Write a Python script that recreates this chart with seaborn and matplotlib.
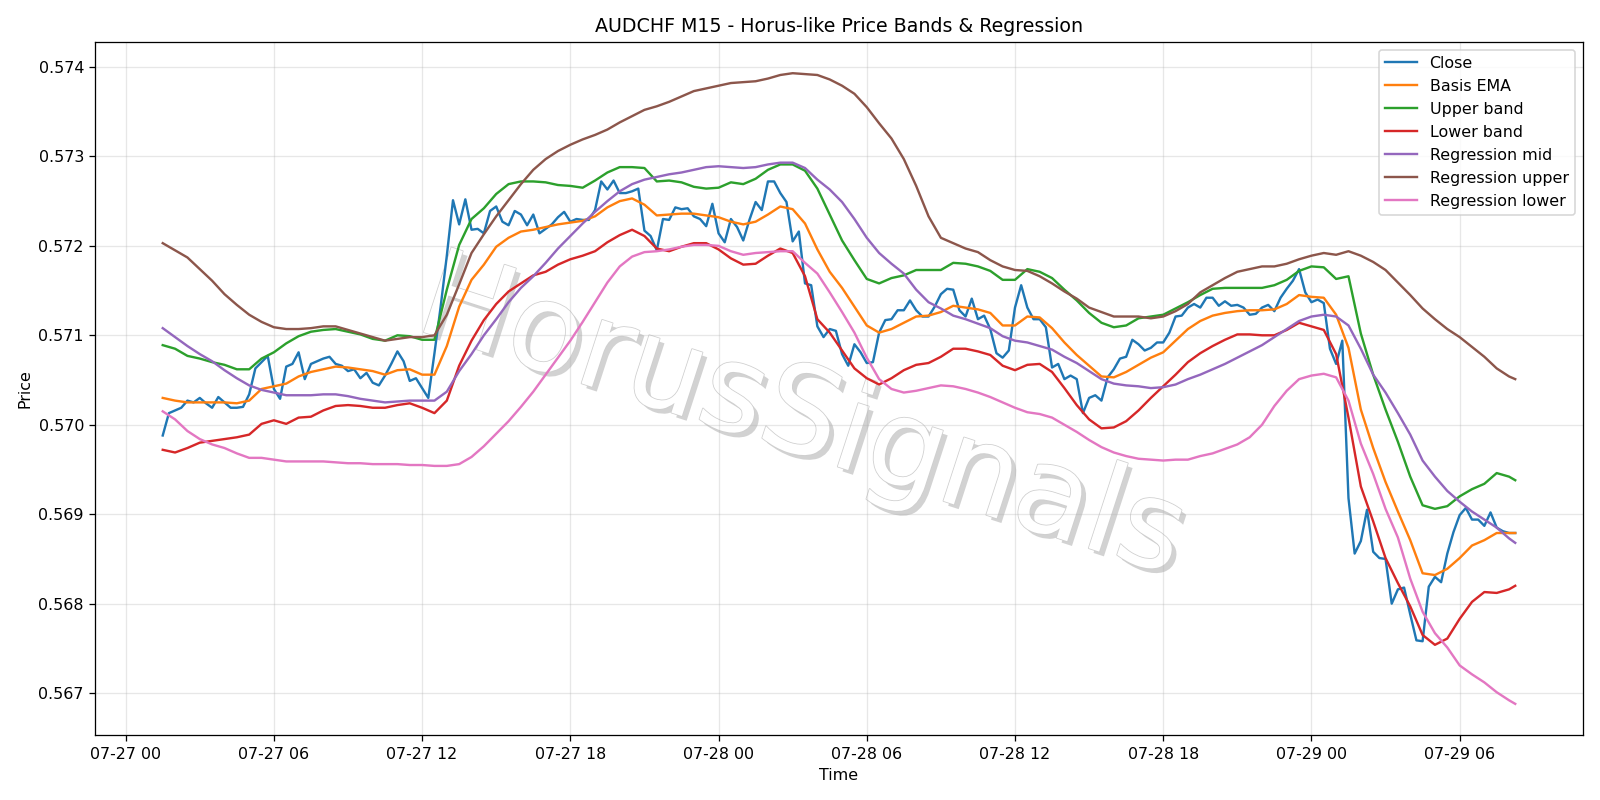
import pandas as pd
import seaborn as sns
import matplotlib
matplotlib.use("Agg")
import matplotlib.pyplot as plt
import matplotlib.dates as mdates
import matplotlib.patheffects as pe
from matplotlib.ticker import FormatStrFormatter


close_times = pd.date_range("2025-07-27 01:30", "2025-07-29 08:15", freq="15min")
band_times = (list(pd.date_range("2025-07-27 01:30", "2025-07-29 08:00", freq="30min"))
              + [pd.Timestamp("2025-07-29 08:15")])

close = [0.56988, 0.57013, 0.57016, 0.57019, 0.57027, 0.57025, 0.57030, 0.57024, 0.57019, 0.57031,
         0.57025, 0.57019, 0.57019, 0.57020, 0.57034, 0.57063, 0.57070, 0.57077, 0.57040, 0.57029,
         0.57065, 0.57068, 0.57081, 0.57051, 0.57068, 0.57071, 0.57074, 0.57076, 0.57068, 0.57066,
         0.57060, 0.57062, 0.57052, 0.57058, 0.57047, 0.57044, 0.57055, 0.57068, 0.57082, 0.57071,
         0.57049, 0.57052, 0.57041, 0.57030, 0.57080, 0.57132, 0.57189, 0.57251, 0.57224, 0.57252,
         0.57218, 0.57219, 0.57214, 0.57239, 0.57244, 0.57227, 0.57223, 0.57239, 0.57235, 0.57223,
         0.57235, 0.57214, 0.57219, 0.57224, 0.57232, 0.57238, 0.57227, 0.57230, 0.57229, 0.57229,
         0.57240, 0.57272, 0.57263, 0.57273, 0.57259, 0.57259, 0.57261, 0.57264, 0.57217, 0.57211,
         0.57195, 0.57230, 0.57229, 0.57243, 0.57241, 0.57242, 0.57233, 0.57230, 0.57222, 0.57247,
         0.57214, 0.57204, 0.57230, 0.57221, 0.57206, 0.57229, 0.57249, 0.57240, 0.57272, 0.57272,
         0.57259, 0.57249, 0.57205, 0.57216, 0.57158, 0.57156, 0.57110, 0.57098, 0.57107, 0.57105,
         0.57079, 0.57066, 0.57090, 0.57081, 0.57069, 0.57070, 0.57103, 0.57117, 0.57118, 0.57128,
         0.57128, 0.57139, 0.57128, 0.57121, 0.57121, 0.57132, 0.57146, 0.57152, 0.57151, 0.57128,
         0.57121, 0.57141, 0.57118, 0.57122, 0.57107, 0.57080, 0.57075, 0.57083, 0.57131, 0.57156,
         0.57131, 0.57118, 0.57118, 0.57109, 0.57064, 0.57068, 0.57051, 0.57055, 0.57051, 0.57013,
         0.57030, 0.57033, 0.57027, 0.57053, 0.57062, 0.57074, 0.57076, 0.57095, 0.57090, 0.57083,
         0.57086, 0.57092, 0.57092, 0.57103, 0.57121, 0.57122, 0.57131, 0.57135, 0.57131, 0.57142,
         0.57142, 0.57133, 0.57138, 0.57133, 0.57134, 0.57131, 0.57123, 0.57124, 0.57131, 0.57134,
         0.57127, 0.57142, 0.57152, 0.57161, 0.57174, 0.57148, 0.57137, 0.57140, 0.57136, 0.57085,
         0.57068, 0.57094, 0.56918, 0.56856, 0.56870, 0.56905, 0.56858, 0.56851, 0.56850, 0.56800,
         0.56816, 0.56818, 0.56788, 0.56759, 0.56758, 0.56819, 0.56830, 0.56824, 0.56856, 0.56880,
         0.56899, 0.56907, 0.56894, 0.56894, 0.56887, 0.56902, 0.56885, 0.56881, 0.56879, 0.56879]

basis_ema = [0.57030, 0.57027, 0.57025, 0.57025, 0.57025, 0.57025, 0.57024, 0.57027, 0.57040, 0.57043,
             0.57046, 0.57054, 0.57059, 0.57062, 0.57065, 0.57064, 0.57062, 0.57060, 0.57056, 0.57061,
             0.57062, 0.57056, 0.57056, 0.57088, 0.57132, 0.57162, 0.57179, 0.57199, 0.57209, 0.57216,
             0.57218, 0.57221, 0.57224, 0.57226, 0.57228, 0.57233, 0.57243, 0.57250, 0.57253, 0.57246,
             0.57234, 0.57235, 0.57236, 0.57236, 0.57234, 0.57232, 0.57227, 0.57224, 0.57227, 0.57235,
             0.57244, 0.57241, 0.57225, 0.57196, 0.57171, 0.57153, 0.57132, 0.57111, 0.57103, 0.57107,
             0.57114, 0.57121, 0.57122, 0.57126, 0.57133, 0.57131, 0.57129, 0.57125, 0.57111, 0.57111,
             0.57121, 0.57120, 0.57108, 0.57092, 0.57078, 0.57066, 0.57054, 0.57053, 0.57059, 0.57067,
             0.57075, 0.57081, 0.57094, 0.57107, 0.57116, 0.57122, 0.57125, 0.57127, 0.57128, 0.57128,
             0.57129, 0.57135, 0.57145, 0.57143, 0.57142, 0.57123, 0.57086, 0.57017, 0.56974, 0.56936,
             0.56903, 0.56871, 0.56834, 0.56832, 0.56839, 0.56851, 0.56865, 0.56871, 0.56879, 0.56879,
             0.56879]

upper_band = [0.57089, 0.57085, 0.57077, 0.57074, 0.57070, 0.57067, 0.57062, 0.57062, 0.57074, 0.57081,
              0.57091, 0.57099, 0.57104, 0.57106, 0.57107, 0.57104, 0.57101, 0.57096, 0.57094, 0.57100,
              0.57099, 0.57095, 0.57095, 0.57151, 0.57201, 0.57230, 0.57242, 0.57258, 0.57269, 0.57272,
              0.57272, 0.57271, 0.57268, 0.57267, 0.57265, 0.57273, 0.57282, 0.57288, 0.57288, 0.57287,
              0.57272, 0.57273, 0.57271, 0.57266, 0.57264, 0.57265, 0.57271, 0.57269, 0.57275, 0.57285,
              0.57291, 0.57291, 0.57284, 0.57264, 0.57235, 0.57206, 0.57184, 0.57163, 0.57158, 0.57164,
              0.57167, 0.57173, 0.57173, 0.57173, 0.57181, 0.57180, 0.57177, 0.57172, 0.57162, 0.57162,
              0.57174, 0.57171, 0.57164, 0.57151, 0.57139, 0.57125, 0.57114, 0.57109, 0.57111, 0.57119,
              0.57121, 0.57123, 0.57130, 0.57137, 0.57145, 0.57152, 0.57153, 0.57153, 0.57153, 0.57153,
              0.57156, 0.57162, 0.57172, 0.57177, 0.57176, 0.57163, 0.57166, 0.57102, 0.57056, 0.57017,
              0.56981, 0.56942, 0.56910, 0.56906, 0.56909, 0.56920, 0.56928, 0.56934, 0.56946, 0.56942,
              0.56938]

lower_band = [0.56972, 0.56969, 0.56974, 0.56980, 0.56982, 0.56984, 0.56986, 0.56989, 0.57001, 0.57005,
              0.57001, 0.57008, 0.57009, 0.57016, 0.57021, 0.57022, 0.57021, 0.57019, 0.57019, 0.57022,
              0.57024, 0.57019, 0.57013, 0.57027, 0.57066, 0.57094, 0.57117, 0.57135, 0.57149, 0.57158,
              0.57167, 0.57171, 0.57179, 0.57185, 0.57189, 0.57194, 0.57204, 0.57212, 0.57218, 0.57211,
              0.57197, 0.57194, 0.57199, 0.57203, 0.57203, 0.57196, 0.57186, 0.57179, 0.57180, 0.57189,
              0.57197, 0.57192, 0.57166, 0.57118, 0.57103, 0.57083, 0.57063, 0.57052, 0.57045, 0.57052,
              0.57061, 0.57067, 0.57069, 0.57076, 0.57085, 0.57085, 0.57082, 0.57078, 0.57066, 0.57061,
              0.57067, 0.57068, 0.57059, 0.57041, 0.57022, 0.57006, 0.56996, 0.56997, 0.57004, 0.57016,
              0.57030, 0.57043, 0.57056, 0.57070, 0.57080, 0.57088, 0.57095, 0.57101, 0.57101, 0.57100,
              0.57100, 0.57106, 0.57114, 0.57110, 0.57106, 0.57079, 0.57008, 0.56931, 0.56892, 0.56851,
              0.56823, 0.56797, 0.56765, 0.56754, 0.56761, 0.56783, 0.56802, 0.56813, 0.56812, 0.56816,
              0.56820]

reg_mid = [0.57108, 0.57098, 0.57088, 0.57079, 0.57071, 0.57061, 0.57052, 0.57044, 0.57039, 0.57036,
           0.57033, 0.57033, 0.57033, 0.57034, 0.57034, 0.57032, 0.57029, 0.57027, 0.57025, 0.57026,
           0.57027, 0.57027, 0.57027, 0.57037, 0.57060, 0.57079, 0.57100, 0.57118, 0.57137, 0.57153,
           0.57166, 0.57181, 0.57197, 0.57211, 0.57225, 0.57238, 0.57250, 0.57261, 0.57269, 0.57274,
           0.57277, 0.57280, 0.57282, 0.57285, 0.57288, 0.57289, 0.57288, 0.57287, 0.57288, 0.57291,
           0.57293, 0.57293, 0.57287, 0.57274, 0.57263, 0.57249, 0.57230, 0.57209, 0.57192, 0.57180,
           0.57169, 0.57151, 0.57137, 0.57130, 0.57122, 0.57118, 0.57113, 0.57108, 0.57099, 0.57094,
           0.57092, 0.57088, 0.57084, 0.57076, 0.57069, 0.57060, 0.57051, 0.57046, 0.57044, 0.57043,
           0.57041, 0.57042, 0.57045, 0.57051, 0.57056, 0.57062, 0.57068, 0.57075, 0.57082, 0.57089,
           0.57098, 0.57107, 0.57116, 0.57121, 0.57123, 0.57121, 0.57111, 0.57085, 0.57056, 0.57036,
           0.57013, 0.56989, 0.56960, 0.56942, 0.56926, 0.56914, 0.56903, 0.56894, 0.56885, 0.56873,
           0.56868]

reg_upper = [0.57203, 0.57195, 0.57187, 0.57174, 0.57161, 0.57146, 0.57134, 0.57123, 0.57115, 0.57109,
             0.57107, 0.57107, 0.57108, 0.57110, 0.57110, 0.57106, 0.57102, 0.57098, 0.57094, 0.57096,
             0.57098, 0.57098, 0.57100, 0.57123, 0.57157, 0.57192, 0.57213, 0.57233, 0.57251, 0.57269,
             0.57285, 0.57297, 0.57306, 0.57313, 0.57319, 0.57324, 0.57330, 0.57338, 0.57345, 0.57352,
             0.57356, 0.57361, 0.57367, 0.57373, 0.57376, 0.57379, 0.57382, 0.57383, 0.57384, 0.57387,
             0.57391, 0.57393, 0.57392, 0.57391, 0.57386, 0.57379, 0.57370, 0.57355, 0.57337, 0.57320,
             0.57297, 0.57267, 0.57233, 0.57209, 0.57203, 0.57197, 0.57193, 0.57184, 0.57177, 0.57173,
             0.57172, 0.57166, 0.57158, 0.57149, 0.57141, 0.57131, 0.57126, 0.57121, 0.57121, 0.57121,
             0.57119, 0.57121, 0.57127, 0.57135, 0.57148, 0.57156, 0.57164, 0.57171, 0.57174, 0.57177,
             0.57177, 0.57180, 0.57185, 0.57189, 0.57192, 0.57190, 0.57194, 0.57189, 0.57182, 0.57173,
             0.57159, 0.57145, 0.57130, 0.57118, 0.57107, 0.57098, 0.57087, 0.57076, 0.57063, 0.57054,
             0.57051]

reg_lower = [0.57015, 0.57006, 0.56993, 0.56984, 0.56978, 0.56974, 0.56968, 0.56963, 0.56963, 0.56961,
             0.56959, 0.56959, 0.56959, 0.56959, 0.56958, 0.56957, 0.56957, 0.56956, 0.56956, 0.56956,
             0.56955, 0.56955, 0.56954, 0.56954, 0.56956, 0.56964, 0.56976, 0.56990, 0.57004, 0.57020,
             0.57037, 0.57056, 0.57075, 0.57094, 0.57115, 0.57137, 0.57159, 0.57177, 0.57188, 0.57193,
             0.57194, 0.57196, 0.57199, 0.57201, 0.57201, 0.57200, 0.57194, 0.57190, 0.57192, 0.57193,
             0.57194, 0.57194, 0.57181, 0.57169, 0.57148, 0.57126, 0.57103, 0.57075, 0.57051, 0.57040,
             0.57036, 0.57038, 0.57041, 0.57044, 0.57043, 0.57040, 0.57036, 0.57031, 0.57025, 0.57019,
             0.57014, 0.57012, 0.57008, 0.57000, 0.56992, 0.56983, 0.56975, 0.56969, 0.56965, 0.56962,
             0.56961, 0.56960, 0.56961, 0.56961, 0.56965, 0.56968, 0.56973, 0.56978, 0.56986, 0.57000,
             0.57021, 0.57038, 0.57051, 0.57055, 0.57057, 0.57053, 0.57027, 0.56979, 0.56945, 0.56906,
             0.56874, 0.56828, 0.56791, 0.56767, 0.56751, 0.56731, 0.56721, 0.56712, 0.56701, 0.56692,
             0.56688]

series = [
    ("Close", close_times, close),
    ("Basis EMA", band_times, basis_ema),
    ("Upper band", band_times, upper_band),
    ("Lower band", band_times, lower_band),
    ("Regression mid", band_times, reg_mid),
    ("Regression upper", band_times, reg_upper),
    ("Regression lower", band_times, reg_lower),
]
colors = sns.color_palette("tab10", 7)

fig, ax = plt.subplots(figsize=(14, 7), dpi=1600 / 14)

for (name, t, vals), c in zip(series, colors):
    sns.lineplot(x=list(t), y=vals, ax=ax, label=name, color=c, linewidth=1.5, estimator=None)

# watermark
ax.text(0.475, 0.455, "HorusSignals", transform=ax.transAxes, fontsize=77, rotation=-18,
        ha="center", va="center", color="white", zorder=1,
        path_effects=[pe.SimplePatchShadow(offset=(3, -3), shadow_rgbFace="gray", alpha=0.35),
                      pe.Stroke(linewidth=1.0, foreground="#cfcfcf"), pe.Normal()])

ax.set_title("AUDCHF M15 - Horus-like Price Bands & Regression")
ax.set_xlabel("Time")
ax.set_ylabel("Price")
ax.xaxis.set_major_locator(mdates.HourLocator(byhour=[0, 6, 12, 18]))
ax.xaxis.set_major_formatter(mdates.DateFormatter("%m-%d %H"))
ax.yaxis.set_major_formatter(FormatStrFormatter("%.3f"))
ax.grid(True, alpha=0.3)
ax.legend(loc="upper right")

plt.tight_layout()
plt.savefig("out.png")
